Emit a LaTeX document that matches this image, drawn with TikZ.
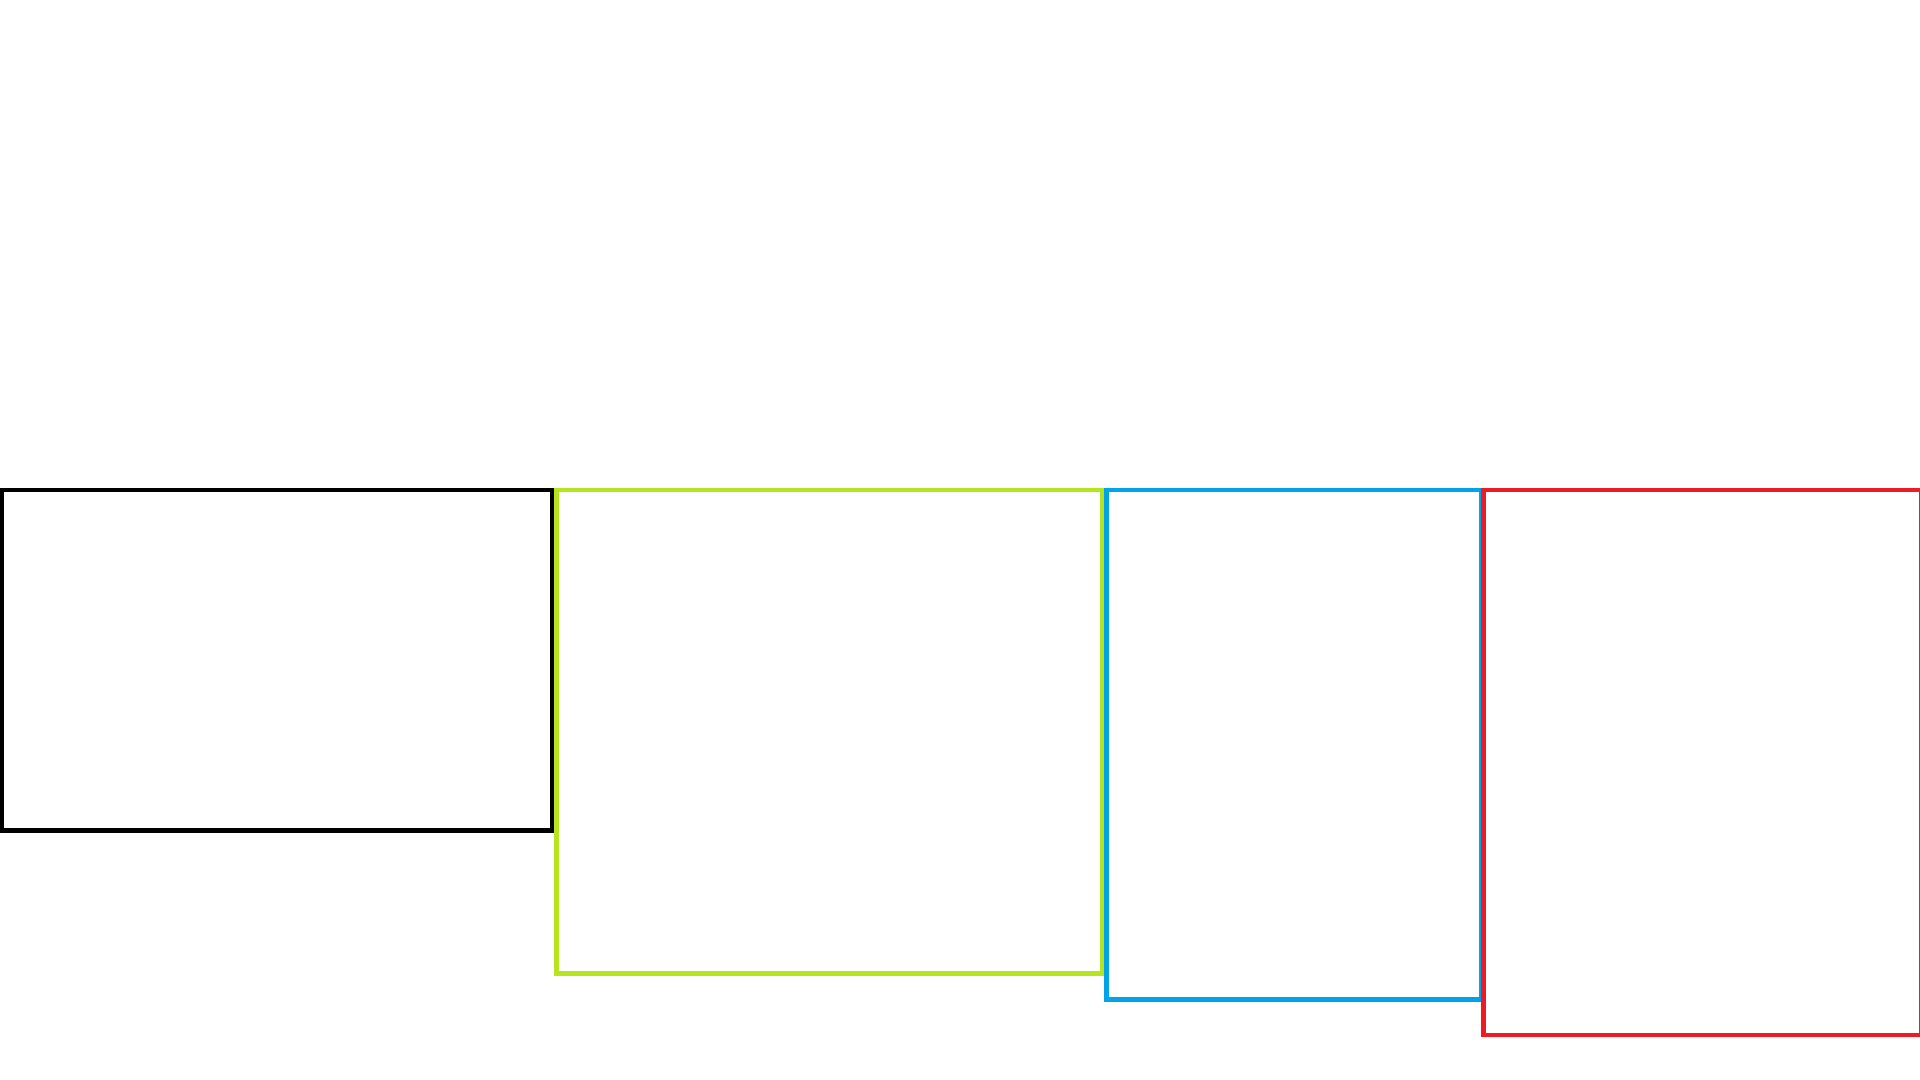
\documentclass[tikz,border=0pt]{standalone}
\usepackage{tikz}
\definecolor{paintlime}{RGB}{181,230,29}
\definecolor{paintblue}{RGB}{0,162,232}
\definecolor{paintred}{RGB}{237,28,36}
\tikzset{panel/.style={line width=1.4pt,miter limit=10}}

\begin{document}
\begin{tikzpicture}[x=0.01cm,y=-0.01cm]
        \useasboundingbox (0,0) rectangle (1920,1080);
        \draw[panel,black] (2,490) rectangle (552,830.5);
        \draw[panel,paintlime] (556.5,490) rectangle (1102.5,973.5);
        \draw[panel,paintblue] (1106.5,490) rectangle (1481.5,999.5);
        \draw[panel,paintred] (1483.5,490) rectangle (1921,1035);
\end{tikzpicture}
\end{document}
